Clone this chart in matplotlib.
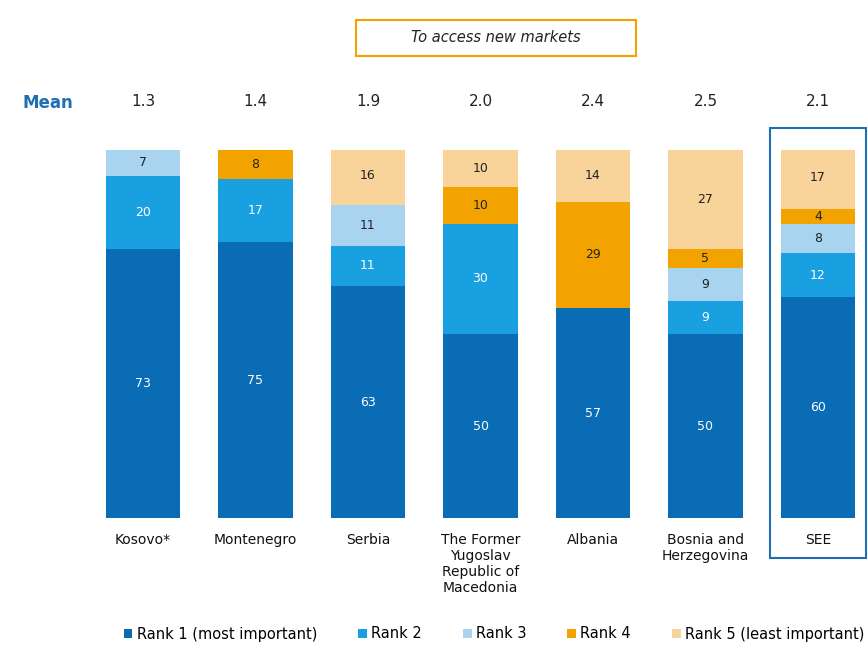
import matplotlib.pyplot as plt
from matplotlib.patches import Rectangle, Patch

# data
regions = ["Kosovo*", "Montenegro", "Serbia",
           "The Former\nYugoslav\nRepublic of\nMacedonia",
           "Albania", "Bosnia and\nHerzegovina", "SEE"]
means = ["1.3", "1.4", "1.9", "2.0", "2.4", "2.5", "2.1"]
rank1 = [73, 75, 63, 50, 57, 50, 60]
rank2 = [20, 17, 11, 30, 0, 9, 12]
rank3 = [7, 0, 11, 0, 0, 9, 8]
rank4 = [0, 8, 0, 10, 29, 5, 4]
rank5 = [0, 0, 16, 10, 14, 27, 17]
rank_names = ["Rank 1 (most important)", "Rank 2", "Rank 3", "Rank 4",
              "Rank 5 (least important)"]

colors = ["#0a6cb4", "#18a0e0", "#a8d4f0", "#f2a300", "#f8d39a"]
text_colors = ["white", "white", "#222222", "#222222", "#222222"]

plt.rcParams['font.family'] = ['DejaVu Sans']

fig = plt.figure(figsize=(8.68, 6.46), dpi=100)
W, H = 868, 646
ax = fig.add_axes([86.75 / W, (H - 518) / H, (6.95 * 112.5) / W, 368 / H])

series = [rank1, rank2, rank3, rank4, rank5]
x = list(range(len(regions)))
bottoms = [0] * len(regions)
for vals, col, tcol in zip(series, colors, text_colors):
    ax.bar(x, vals, bottom=bottoms, width=0.66, color=col, linewidth=0)
    for i, v in enumerate(vals):
        if v > 0:
            ax.text(i, bottoms[i] + v / 2, str(v), ha="center", va="center",
                    fontsize=9, color=tcol)
    bottoms = [b + v for b, v in zip(bottoms, vals)]

ax.set_xlim(-0.5, 6.45)
ax.set_ylim(0, 100)
ax.axis("off")

# category labels below bars
for i, name in enumerate(regions):
    ax.text(i, -4, name, ha="center", va="top", fontsize=10,
            color="#111111", linespacing=1.2)

# mean row
for i, m in enumerate(means):
    ax.text(i, 113.3, m, ha="center", va="center", fontsize=11,
            color="#222222")
fig.text(48 / W, 1 - 103 / H, "Mean", ha="center", va="center",
         fontsize=12, color="#1f6fb5", fontweight="bold")

# title box
fig.text(496 / W, 1 - 38 / H, "To access new markets", ha="center",
         va="center", fontsize=10.5, style="italic", color="#222222")
fig.patches.append(Rectangle((356 / W, 1 - 56 / H), 280 / W, 36 / H,
                             transform=fig.transFigure, fill=False,
                             edgecolor="#f2a300", lw=1.5))

# box around SEE
fig.patches.append(Rectangle((770 / W, 1 - 558 / H), 96 / W, 430 / H,
                             transform=fig.transFigure, fill=False,
                             edgecolor="#1f6fb5", lw=1.5))

# legend
handles = [Patch(facecolor=c, edgecolor="none") for c in colors]
fig.legend(handles, rank_names, loc="center", bbox_to_anchor=(494 / W, 1 - 634 / H),
           ncol=5, frameon=False, fontsize=10.5, handlelength=0.6,
           handleheight=0.6, handletextpad=0.3, columnspacing=2.8)

fig.savefig("out.png", dpi=100)
